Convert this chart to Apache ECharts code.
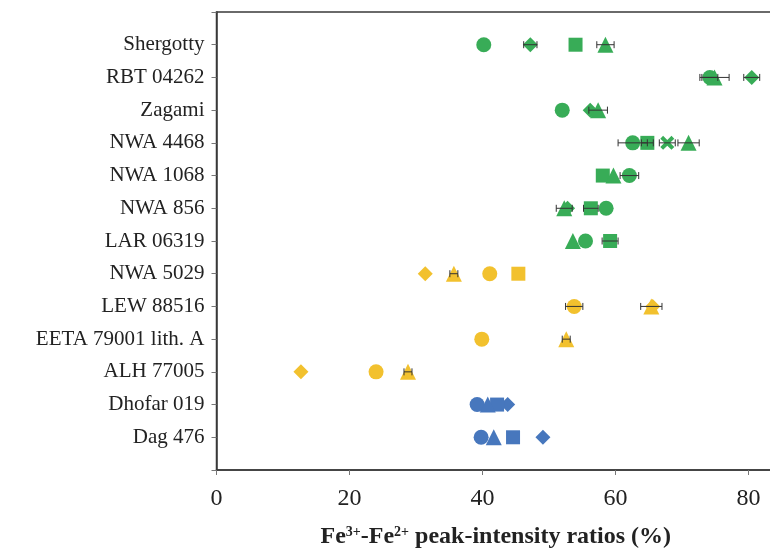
<!DOCTYPE html>
<html><head><meta charset="utf-8">
<script src="https://cdn.jsdelivr.net/npm/echarts@6/dist/echarts.min.js"></script>
<style>html,body{margin:0;padding:0;background:#fff}#c{width:770px;height:550px}</style>
</head><body><div id="c"></div>
<script>
// ---- data ----
const categories = ['Shergotty','RBT 04262','Zagami','NWA 4468','NWA 1068','NWA 856','LAR 06319',
  'NWA 5029','LEW 88516','EETA 79001 lith. A','ALH 77005','Dhofar 019','Dag 476'];
const rowGroup = [0,0,0,0,0,0,0,1,1,1,1,2,2];
const circleVals   = [40.2, 74.2, 52.0, 62.6, 62.1, 58.6, 55.5, 41.1, 53.8, 39.9, 24.0, 39.2, 39.8];
const circleErr    = [0,    1.2,  0,    2.2,  1.4,  0,    0,    0,    1.3,  0,    0,    0,    0];
const diamondVals  = [47.2, 80.5, 56.2, null, null, 52.8, null, 31.4, 65.6, null, 12.7, 43.8, 49.1];
const diamondErr   = [1.0,  1.2,  0,    0,    0,    0,    0,    0,    0,    0,    0,    0,    0];
const squareVals   = [54.0, null, null, 64.8, 58.1, 56.3, 59.2, 45.4, null, null, null, 42.2, 44.6];
const squareErr    = [0,    0,    0,    0.9,  0,    1.1,  1.2,  0,    0,    0,    0,    0,    0];
const triangleVals = [58.5, 74.9, 57.4, 71.0, 59.7, 52.3, 53.6, 35.7, 65.4, 52.6, 28.8, 40.8, 41.7];
const triangleErr  = [1.3,  2.2,  1.4,  1.6,  0,    1.2,  0,    0.6,  1.6,  0.6,  0.6,  0,    0];
const crossVals    = [null, null, null, 67.8, null, null, null, null, null, null, null, null, null];
const crossErr     = [0,    0,    0,    1.2,  0,    0,    0,    0,    0,    0,    0,    0,    0];
const xTicks = [0, 20, 40, 60, 80];

// ---- styling ----
const palette = ['#38AC57', '#F2C12E', '#4777BD'];
const serif = '"Liberation Serif", "DejaVu Serif", serif';

function pts(vals) {
  const out = [];
  vals.forEach((v, i) => {
    if (v != null) out.push({ value: [v, i + 1], itemStyle: { color: palette[rowGroup[i]], opacity: 1 } });
  });
  return out;
}
function errs(vals, e) {
  const out = [];
  vals.forEach((v, i) => { if (v != null && e[i] > 0) out.push([v, i + 1, e[i]]); });
  return out;
}
const errData = [].concat(
  errs(circleVals, circleErr), errs(diamondVals, diamondErr), errs(squareVals, squareErr),
  errs(triangleVals, triangleErr), errs(crossVals, crossErr));

const crossPath = 'path://M2,0 L5,3 L8,0 L10,2 L7,5 L10,8 L8,10 L5,7 L2,10 L0,8 L3,5 L0,2 Z';

function scatter(name, vals, symbol, size) {
  return { name, type: 'scatter', data: pts(vals), symbol, symbolSize: size, z: 3,
           itemStyle: { opacity: 1 }, emphasis: { disabled: true } };
}

const chart = echarts.init(document.getElementById('c'), null, { renderer: 'canvas' });
chart.setOption({
  animation: false,
  backgroundColor: '#fff',
  grid: { left: 216.5, top: 12, width: 558.5, height: 458, containLabel: false, outerBoundsMode: 'none',
          show: true, borderColor: '#3a3a3a', borderWidth: 1.5 },
  xAxis: {
    type: 'value', min: 0, max: 84, interval: 20,
    axisLine: { show: true, onZero: false, lineStyle: { color: '#3a3a3a', width: 1.5 } },
    axisTick: { show: true, length: 5, lineStyle: { color: '#777' } },
    splitLine: { show: false },
    axisLabel: {
      fontFamily: serif, fontSize: 24, color: '#222', margin: 17, showMaxLabel: false,
      formatter: v => xTicks.indexOf(v) >= 0 ? String(v) : ''
    },
    name: '{b|Fe}{s|3+}{b|-Fe}{s|2+}{b| peak-intensity ratios (%)}',
    nameLocation: 'middle', nameGap: 55,
    nameTextStyle: {
      rich: {
        b: { fontFamily: serif, fontWeight: 'bold', fontSize: 24, color: '#222' },
        s: { fontFamily: serif, fontWeight: 'bold', fontSize: 14, color: '#222', verticalAlign: 'top', padding: [0, 0, 10, 0] }
      }
    }
  },
  yAxis: {
    type: 'value', min: 0, max: 14, interval: 1, inverse: true,
    axisLine: { show: true, onZero: false, lineStyle: { color: '#3a3a3a', width: 1.5 } },
    axisTick: { show: true, length: 5, lineStyle: { color: '#777' } },
    splitLine: { show: false },
    axisLabel: {
      fontFamily: serif, fontSize: 21, color: '#222', margin: 12,
      formatter: v => categories[v - 1] || ''
    }
  },
  series: [
    scatter('circle', circleVals, 'circle', 15),
    scatter('diamond', diamondVals, 'diamond', 15),
    scatter('square', squareVals, 'rect', 14),
    scatter('triangle', triangleVals, 'triangle', 16),
    scatter('cross', crossVals, crossPath, 14),
    {
      type: 'custom', z: 5, data: errData,
      renderItem: (params, api) => {
        const x = api.value(0), y = api.value(1), e = api.value(2);
        const a = api.coord([x - e, y]), b = api.coord([x + e, y]);
        const st = { stroke: '#333', lineWidth: 1 };
        return { type: 'group', children: [
          { type: 'line', shape: { x1: a[0], y1: a[1], x2: b[0], y2: b[1] }, style: st },
          { type: 'line', shape: { x1: a[0], y1: a[1] - 3.5, x2: a[0], y2: a[1] + 3.5 }, style: st },
          { type: 'line', shape: { x1: b[0], y1: b[1] - 3.5, x2: b[0], y2: b[1] + 3.5 }, style: st }
        ]};
      }
    }
  ]
});
</script></body></html>
